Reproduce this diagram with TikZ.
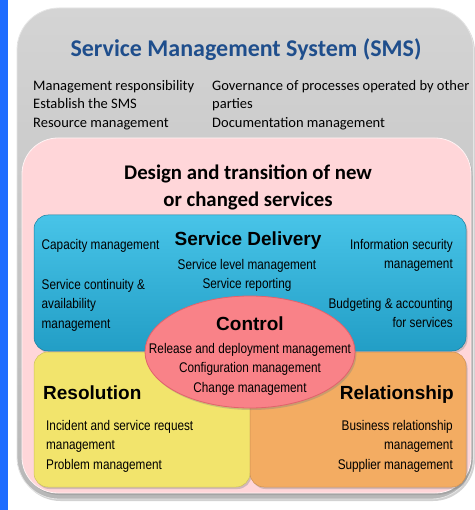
\documentclass[tikz,border=0pt]{standalone}
\usepackage{fontspec}
\setmainfont{Carlito}
\newfontfamily\arialfont{Liberation Sans}
\newfontfamily\narrowfont[FakeStretch=0.84]{Liberation Sans}
\usepackage{tikz}
\usetikzlibrary{shadows,positioning}

\definecolor{stripblue}{RGB}{30,108,255}
\definecolor{titleblue}{RGB}{31,78,140}
\definecolor{smsgraytop}{RGB}{212,212,212}
\definecolor{smsgraybot}{RGB}{184,184,184}
\definecolor{dtpink}{RGB}{255,214,217}
\definecolor{sdbluetop}{RGB}{72,196,232}
\definecolor{sdbluebot}{RGB}{34,158,198}
\definecolor{resyellow}{RGB}{242,228,108}
\definecolor{relorange}{RGB}{243,172,98}
\definecolor{ctrlred}{RGB}{249,130,136}
\definecolor{ctrledge}{RGB}{226,98,108}

\begin{document}
\begin{tikzpicture}[x=1pt,y=-1pt]
\tikzstyle{title} = [font=\fontsize{24}{28}\selectfont\bfseries, text=titleblue, inner sep=0pt];
\tikzstyle{plain} = [font=\fontsize{14.5}{18.7}\selectfont, align=left, anchor=north west, inner sep=0pt];
\tikzstyle{bighead} = [font=\fontsize{20.8}{27}\selectfont\bfseries, align=center, inner sep=0pt];
\tikzstyle{head} = [font=\arialfont\bfseries\fontsize{19}{22}\selectfont, inner sep=0pt];
\tikzstyle{item} = [font=\narrowfont\fontsize{14}{19.5}\selectfont, inner sep=0pt];
\tikzstyle{shadowed} = [drop shadow={opacity=0.35, shadow xshift=1.5pt, shadow yshift=-2pt}];

\useasboundingbox (0,0) rectangle (474,510);
\fill[white] (0,0) rectangle (474,510);
\fill[stripblue] (0,0) rectangle (8,510);

\path[shadowed, top color=smsgraytop, bottom color=smsgraybot, draw=white!80!gray, line width=0.8pt, rounded corners=42pt] (17,8) rectangle (473.5,499);
\path[shadowed, fill=dtpink, draw=white!70!dtpink, line width=0.8pt, rounded corners=36pt] (22,138) rectangle (471,493);
\path[shadowed, top color=sdbluetop, bottom color=sdbluebot, draw=sdbluebot!80!black, line width=0.5pt, rounded corners=14pt] (34,215) rectangle (466,351);
\path[shadowed, fill=resyellow, draw=resyellow!85!black, line width=0.5pt, rounded corners=14pt] (34,352) rectangle (250,487);
\path[shadowed, fill=relorange, draw=relorange!85!black, line width=0.5pt, rounded corners=14pt] (250,352) rectangle (466,487);
\path[shadowed, fill=ctrlred, draw=ctrledge, line width=0.8pt] (250,352) ellipse [x radius=105, y radius=56];

\node at (246,57) [title, anchor=base] (sms) {Service Management System (SMS)};
\node at (33,80) [plain] (smsleft) {Management responsibility\\Establish the SMS\\Resource management};
\node at (212,80) [plain] (smsright) {Governance of processes operated by other\\parties\\Documentation management};

\node at (248,165) [bighead, anchor=north] (design) {Design and transition of new\\or changed services};

\node at (248,245) [head, anchor=base] (delivery) {Service Delivery};
\node at (41.5,239) [item, anchor=north west] (capacity) {Capacity management};
\node at (247,259) [item, align=center, anchor=north] (level) {Service level management\\Service reporting};
\node at (453,239) [item, align=right, anchor=north east] (security) {Information security\\management};
\node at (41.5,279) [item, align=left, anchor=north west] (continuity) {Service continuity \&\\availability\\management};
\node at (453,298) [item, align=right, anchor=north east] (budget) {Budgeting \& accounting\\for services};

\node at (250,330) [head, anchor=base] (control) {Control};
\node at (250,343) [item, align=center, anchor=north] (release) {Release and deployment management\\Configuration management\\Change management};

\node at (43,399) [head, anchor=base west] (resolution) {Resolution};
\node at (46,420) [item, align=left, anchor=north west] (incident) {Incident and service request\\management\\Problem management};

\node at (454,399) [head, anchor=base east] (relationship) {Relationship};
\node at (453,420) [item, align=right, anchor=north east] (business) {Business relationship\\management\\Supplier management};

\end{tikzpicture}
\end{document}
